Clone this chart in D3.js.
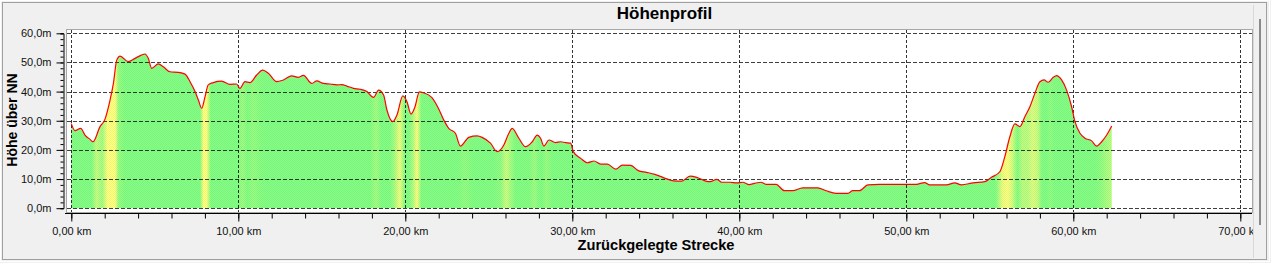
<!DOCTYPE html>
<html>
<head>
<meta charset="utf-8">
<script src="https://cdn.jsdelivr.net/npm/d3@7"></script>
<style>
	body { margin: 0; background: #f0f0f0; }
	svg { display: block; font-family: 'Liberation Sans', Arial, sans-serif; }
</style>
</head>
<body>
<svg id="profil_svg" width="1271" height="263"></svg>
<script>

var titleText = 'Höhenprofil'
var xTitle = 'Zurückgelegte Strecke'
var yTitle = 'Höhe über NN'

var distKm = [0, 0.22, 0.56, 0.82, 1.12, 1.3, 1.72, 2.0, 2.32, 2.52, 2.72, 2.92, 3.41, 3.82, 4.41, 4.61, 4.81, 5.21, 5.51, 5.91,
	6.41, 6.81, 7.11, 7.41, 7.61, 7.81, 8.01, 8.2, 8.5, 9.0, 9.5, 9.9, 10.1, 10.4, 10.7, 11.1, 11.46, 11.8, 12.3, 12.7,
	13.2, 13.6, 13.9, 14.4, 14.7, 15.1, 15.5, 15.9, 16.2, 16.5, 16.9, 17.3, 17.7, 18.1, 18.4, 18.7, 18.9, 19.25, 19.5, 19.85,
	20.1, 20.34, 20.58, 20.84, 21.08, 21.58, 21.98, 22.3, 22.6, 23.0, 23.3, 23.8, 24.3, 24.6, 25.1, 25.5, 25.9, 26.2, 26.4, 26.8,
	27.2, 27.6, 27.9, 28.1, 28.3, 28.6, 29.0, 29.3, 29.6, 29.9, 30.06, 30.5, 30.9, 31.3, 31.7, 32.1, 32.6, 33.0, 33.5, 33.95,
	34.45, 34.95, 35.45, 36.05, 36.55, 37.05, 37.45, 37.95, 38.25, 38.65, 38.95, 39.45, 39.85, 40.2, 40.6, 40.9, 41.3, 41.6, 42.2, 42.7,
	43.2, 43.8, 44.7, 45.2, 45.8, 46.5, 46.8, 47.2, 47.7, 48.4, 49.8, 50.6, 51.1, 51.4, 52.4, 52.9, 53.3, 54.0, 54.7, 55.1,
	55.6, 55.9, 56.2, 56.5, 56.8, 57.1, 57.4, 57.7, 58.0, 58.25, 58.5, 58.8, 59.0, 59.3, 59.6, 59.9, 60.1, 60.4, 60.7, 61.1,
	61.4, 61.7, 62.0, 62.3]

var elevM = [29.0, 26.6, 27.4, 25.1, 23.6, 22.8, 28.0, 30.3, 37.1, 42.8, 50.8, 52.2, 50.3, 51.4, 52.9, 51.4, 48.0, 49.5, 48.5, 46.8,
	46.6, 46.0, 43.4, 40.0, 37.1, 34.3, 38.3, 42.3, 43.1, 43.6, 42.5, 42.6, 41.1, 43.4, 43.1, 45.7, 47.4, 46.3, 43.4, 44.0,
	45.4, 44.9, 45.6, 42.8, 43.7, 42.8, 42.6, 42.3, 42.4, 41.9, 41.1, 40.8, 40.0, 38.0, 40.5, 38.8, 33.7, 29.7, 32.0, 38.5,
	36.5, 32.3, 34.8, 39.9, 39.6, 38.0, 34.3, 30.3, 27.4, 25.7, 21.3, 24.3, 24.8, 24.3, 22.3, 19.4, 21.7, 25.7, 27.4, 24.0,
	21.1, 22.8, 25.1, 24.0, 21.3, 23.4, 22.5, 22.8, 22.5, 22.3, 19.4, 17.1, 15.6, 16.2, 15.1, 15.1, 13.4, 14.8, 14.7, 12.9,
	12.3, 11.6, 10.5, 9.4, 9.3, 11.0, 10.6, 9.4, 9.1, 9.9, 8.9, 8.9, 8.7, 8.9, 8.1, 8.5, 8.9, 8.2, 8.2, 6.0,
	6.0, 7.0, 7.0, 6.0, 5.1, 5.1, 6.0, 6.0, 8.0, 8.2, 8.2, 8.2, 8.8, 8.0, 8.0, 8.7, 8.0, 8.7, 9.1, 10.6,
	12.5, 17.7, 24.5, 28.9, 28.0, 31.4, 34.8, 39.4, 43.4, 44.0, 43.2, 44.9, 45.5, 44.0, 40.5, 34.8, 29.7, 25.7, 24.0, 23.1,
	21.3, 22.8, 25.1, 28.2]

var yTicks = [0, 10, 20, 30, 40, 50, 60]
var xTicks = [0, 10, 20, 30, 40, 50, 60, 70]

var svg = d3.select('#profil_svg')

var x = d3.scaleLinear().domain([0, 70]).range([71.3, 1240.3])
var y = d3.scaleLinear().domain([0, 60]).range([208.2, 33.3])

var pts = distKm.map(function(d, i) { return { km: d, m: elevM[i] } })

var defs = svg.append('defs')

// steigung -> farbe (nur bergauf gelb)
var green = d3.rgb(132, 254, 132)
var yellow = d3.rgb(255, 255, 128)
var grad = defs.append('linearGradient')
	.attr('id', 'steigung')
	.attr('gradientUnits', 'userSpaceOnUse')
	.attr('x1', x(distKm[0]))
	.attr('x2', x(distKm[distKm.length - 1]))
	.attr('y1', 0)
	.attr('y2', 0)

var span = distKm[distKm.length - 1] - distKm[0]
for (var i = 0; i < pts.length - 1; i++) {
	var g = (pts[i + 1].m - pts[i].m) / ((pts[i + 1].km - pts[i].km) * 1000) * 100
	var t = Math.max(0, Math.min(1, (g - 0.4) / 1.6))
	var c = d3.interpolateRgb(green, yellow)(t)
	grad.append('stop')
		.attr('offset', ((pts[i].km + pts[i + 1].km) / 2 - distKm[0]) / span)
		.attr('stop-color', c)
}

var pat = defs.append('pattern')
	.attr('id', 'raster')
	.attr('width', 2)
	.attr('height', 2)
	.attr('patternUnits', 'userSpaceOnUse')
pat.append('rect').attr('x', 0).attr('y', 0).attr('width', 1).attr('height', 1).attr('fill', 'rgba(0,60,0,0.06)')
pat.append('rect').attr('x', 1).attr('y', 1).attr('width', 1).attr('height', 1).attr('fill', 'rgba(0,60,0,0.06)')

defs.append('clipPath')
	.attr('id', 'labelclip')
	.append('rect')
	.attr('x', 0).attr('y', 0).attr('width', 1253).attr('height', 263)

// rahmen
svg.append('rect')
	.attr('x', 0.5).attr('y', 0.5).attr('width', 1269).attr('height', 261)
	.attr('fill', 'none').attr('stroke', '#fff')
svg.append('rect')
	.attr('x', 2.5).attr('y', 2.5).attr('width', 1264).attr('height', 257)
	.attr('fill', 'none').attr('stroke', '#a0a0a0')
svg.append('line')
	.attr('x1', 1253.5).attr('x2', 1253.5).attr('y1', 5).attr('y2', 258)
	.attr('stroke', '#d8d8d8')
svg.append('line')
	.attr('x1', 1260).attr('x2', 1260).attr('y1', 19).attr('y2', 225)
	.attr('stroke', '#8a8a8a').attr('stroke-width', 2)

// plotflaeche
svg.append('rect')
	.attr('x', 66.5).attr('y', 29.5).attr('width', 1186).attr('height', 183)
	.attr('fill', '#fff').attr('stroke', '#a8a8a8')

var area = d3.area()
	.x(d => x(d.km))
	.y0(y(0))
	.y1(d => y(d.m))
	.curve(d3.curveMonotoneX)

var line = d3.line()
	.x(d => x(d.km))
	.y(d => y(d.m))
	.curve(d3.curveMonotoneX)

svg.append('path')
	.datum(pts)
	.attr('d', area)
	.attr('fill', 'url(#steigung)')

svg.append('path')
	.datum(pts)
	.attr('d', area)
	.attr('fill', 'url(#raster)')

// gitter
svg.selectAll('.hgrid')
	.data(yTicks)
	.enter().append('line')
	.attr('class', 'hgrid')
	.attr('x1', 67).attr('x2', 1252)
	.attr('y1', d => Math.round(y(d)) + 0.5)
	.attr('y2', d => Math.round(y(d)) + 0.5)
	.attr('stroke', '#000')
	.attr('stroke-opacity', 0.75)
	.attr('stroke-dasharray', '4,2')

svg.selectAll('.vgrid')
	.data(xTicks)
	.enter().append('line')
	.attr('class', 'vgrid')
	.attr('x1', d => Math.round(x(d)) + 0.5)
	.attr('x2', d => Math.round(x(d)) + 0.5)
	.attr('y1', 30).attr('y2', 212)
	.attr('stroke', '#000')
	.attr('stroke-opacity', 0.8)
	.attr('stroke-dasharray', '3,2')

svg.append('path')
	.datum(pts)
	.attr('d', line)
	.attr('fill', 'none')
	.attr('stroke', '#ff0000')
	.attr('stroke-width', 1.2)

// y achse
var yAxis = d3.axisLeft(y)
	.tickValues(d3.range(0, 61, 2))
	.tickSize(3)
	.tickFormat('')

svg.append('g')
	.attr('transform', 'translate(63.5,0)')
	.call(yAxis)
	.call(g => g.select('.domain').attr('stroke', '#000'))

svg.append('g')
	.attr('transform', 'translate(63.5,0)')
	.call(d3.axisLeft(y)
		.tickValues(yTicks)
		.tickSize(7)
		.tickPadding(5)
		.tickFormat(d => d3.format('.1f')(d).replace('.', ',') + 'm'))
	.call(g => g.select('.domain').remove())
	.call(g => g.selectAll('text').attr('font-size', 11).attr('fill', '#111').attr('font-family', 'Liberation Sans, Arial, sans-serif'))

// x achse
svg.append('line')
	.attr('x1', 65).attr('x2', 1252)
	.attr('y1', 213.5).attr('y2', 213.5)
	.attr('stroke', '#000')

svg.append('g')
	.attr('transform', 'translate(0,213.5)')
	.call(d3.axisBottom(x)
		.tickValues(d3.range(0, 71, 2))
		.tickSize(5)
		.tickFormat(''))
	.call(g => g.select('.domain').remove())

svg.append('g')
	.attr('transform', 'translate(0,213.5)')
	.attr('clip-path', 'url(#labelclip)')
	.call(d3.axisBottom(x)
		.tickValues(xTicks)
		.tickSize(8)
		.tickPadding(6)
		.tickFormat(d => d3.format('.2f')(d).replace('.', ',') + ' km'))
	.call(g => g.select('.domain').remove())
	.call(g => g.selectAll('text').attr('font-size', 11).attr('fill', '#111').attr('font-family', 'Liberation Sans, Arial, sans-serif'))

// titel
svg.append('text')
	.attr('x', 664.5)
	.attr('y', 19)
	.attr('text-anchor', 'middle')
	.attr('font-size', 17)
	.attr('font-weight', 'bold')
	.attr('fill', '#000')
	.text(titleText)

svg.append('text')
	.attr('x', 656)
	.attr('y', 250)
	.attr('text-anchor', 'middle')
	.attr('font-size', 14.5)
	.attr('font-weight', 'bold')
	.attr('textLength', 157)
	.attr('lengthAdjust', 'spacingAndGlyphs')
	.attr('fill', '#000')
	.text(xTitle)

svg.append('text')
	.attr('transform', 'translate(17,120) rotate(-90)')
	.attr('text-anchor', 'middle')
	.attr('font-size', 14)
	.attr('font-weight', 'bold')
	.attr('fill', '#000')
	.text(yTitle)

</script>
</body>
</html>
